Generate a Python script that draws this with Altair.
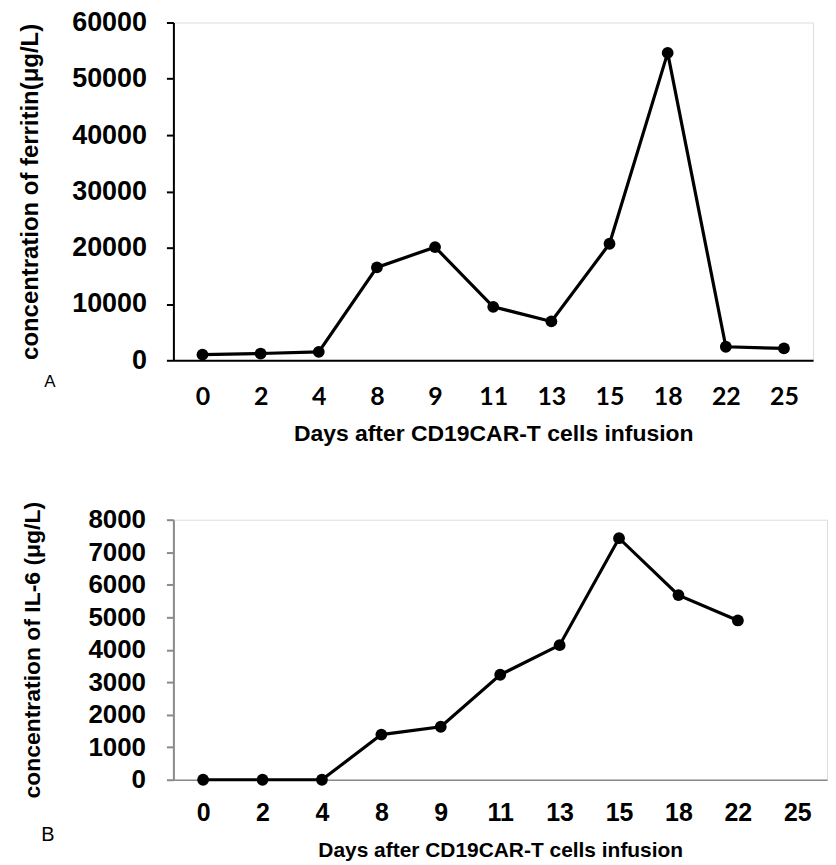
import altair as alt
import pandas as pd

# ---- data ----
days = ["0", "2", "4", "8", "9", "11", "13", "15", "18", "22", "25"]
ferritin = [1000, 1200, 1500, 16500, 20100, 9500, 6900, 20700, 54600, 2400, 2100]
il6_days = ["0", "2", "4", "8", "9", "11", "13", "15", "18", "22"]
il6 = [0, 0, 0, 1390, 1630, 3230, 4140, 7430, 5680, 4900]

ferritin_ticks = [0, 10000, 20000, 30000, 40000, 50000, 60000]
il6_ticks = [0, 1000, 2000, 3000, 4000, 5000, 6000, 7000, 8000]

x_title = "Days after CD19CAR-T cells infusion"
ya_title = "concentration of ferritin(μg/L)"
yb_title = "concentration of IL-6 (μg/L)"

df_a = pd.DataFrame({"day": days, "value": ferritin})
df_b = pd.DataFrame({"day": il6_days, "value": il6})

FONT = "Liberation Sans"

# ---- panel A ----
xa = alt.X(
    "day:O",
    sort=None,
    scale=alt.Scale(domain=days),
    axis=alt.Axis(
        title=x_title, labelAngle=0, ticks=False,
        labelFont="Lato", labelFontSize=25, labelFontWeight="bold", labelColor="black",
        labelPadding=24,
        titleFont=FONT, titleFontSize=23, titleFontWeight="bold", titleColor="black",
        titlePadding=14,
        domainColor="black", domainWidth=2,
    ),
)
ya = alt.Y(
    "value:Q",
    scale=alt.Scale(domain=[0, 60000], nice=False),
    axis=alt.Axis(
        title=ya_title, values=ferritin_ticks, format="d", grid=False,
        labelFont=FONT, labelFontSize=27, labelFontWeight="bold", labelColor="black",
        labelPadding=20, tickSize=7, tickColor="black", tickWidth=2,
        titleFont=FONT, titleFontSize=24, titleFontWeight="bold", titleColor="black",
        titlePadding=29,
        domainColor="black", domainWidth=2,
    ),
)
base_a = alt.Chart(df_a)
line_a = base_a.mark_line(color="black", strokeWidth=3.2).encode(x=xa, y=ya)
pts_a = base_a.mark_point(filled=True, color="black", size=140, opacity=1).encode(x=xa, y=ya)
lab_a = alt.Chart(pd.DataFrame({"t": ["A"]})).mark_text(
    font=FONT, fontSize=17, color="black", align="center", baseline="middle"
).encode(text="t:N", x=alt.value(-124), y=alt.value(361))
panel_a = alt.layer(line_a, pts_a, lab_a).properties(width=642, height=339)

# ---- panel B ----
xb = alt.X(
    "day:O",
    sort=None,
    scale=alt.Scale(domain=days),
    axis=alt.Axis(
        title=x_title, labelAngle=0, ticks=False,
        labelFont=FONT, labelFontSize=25, labelFontWeight="bold", labelColor="black",
        labelPadding=21,
        titleFont=FONT, titleFontSize=21, titleFontWeight="bold", titleColor="black",
        titlePadding=14,
        domainColor="#8a8a8a", domainWidth=1.5,
    ),
)
yb = alt.Y(
    "value:Q",
    scale=alt.Scale(domain=[0, 8000], nice=False),
    axis=alt.Axis(
        title=yb_title, values=il6_ticks, format="d", grid=False,
        labelFont=FONT, labelFontSize=26, labelFontWeight="bold", labelColor="black",
        labelPadding=21, tickSize=7, tickColor="#8a8a8a", tickWidth=2,
        titleFont=FONT, titleFontSize=23, titleFontWeight="bold", titleColor="black",
        titlePadding=44,
        domainColor="#8a8a8a", domainWidth=2,
    ),
)
base_b = alt.Chart(df_b)
line_b = base_b.mark_line(color="black", strokeWidth=3.2).encode(x=xb, y=yb)
pts_b = base_b.mark_point(filled=True, color="black", size=140, opacity=1).encode(x=xb, y=yb)
lab_b = alt.Chart(pd.DataFrame({"t": ["B"]})).mark_text(
    font=FONT, fontSize=20, color="black", align="center", baseline="middle"
).encode(text="t:N", x=alt.value(-126), y=alt.value(316))
panel_b = alt.layer(line_b, pts_b, lab_b).properties(width=656, height=261)

chart = alt.vconcat(panel_a, panel_b, spacing=54).properties(
    padding={"left": 10, "top": -2, "right": 0, "bottom": 0}
).configure_view(stroke=None).configure(background="white")

chart.save("out.html", embed_options={"renderer": "svg", "actions": False})
